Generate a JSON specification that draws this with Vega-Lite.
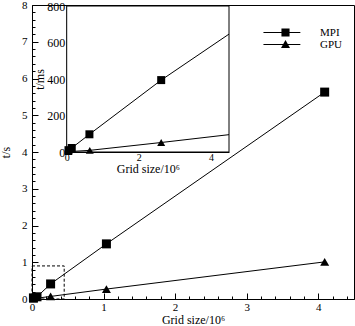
{
  "$schema": "https://vega.github.io/schema/vega-lite/v6.json",
  "width": 322,
  "height": 294,
  "autosize": {"type": "none"},
  "padding": {"left": 32, "top": 5, "right": 1, "bottom": 27},
  "config": {
    "font": "Liberation Serif",
    "view": {"stroke": "black", "strokeWidth": 1},
    "axis": {
      "domainColor": "black", "tickColor": "black", "labelColor": "black", "titleColor": "black",
      "labelFontSize": 11, "titleFontSize": 12, "titleFontWeight": "normal", "grid": false,
      "zindex": 1, "labelOverlap": false, "labelFlush": false, "tickWidth": 1, "domainWidth": 1, "tickCount": 100
    },
    "legend": {"labelColor": "black"}
  },
  "datasets": {
    "main": [
      {"series": "MPI", "x": 0.02, "y": 0.03},
      {"series": "MPI", "x": 0.07, "y": 0.06},
      {"series": "MPI", "x": 0.26, "y": 0.41},
      {"series": "MPI", "x": 1.04, "y": 1.5},
      {"series": "MPI", "x": 4.09, "y": 5.63},
      {"series": "GPU", "x": 0.02, "y": 0.01},
      {"series": "GPU", "x": 0.26, "y": 0.07},
      {"series": "GPU", "x": 1.04, "y": 0.27},
      {"series": "GPU", "x": 4.09, "y": 1.01}
    ],
    "inset": [
      {"series": "MPI", "x": 0.05, "y": 10, "marked": true},
      {"series": "MPI", "x": 0.14, "y": 22, "marked": true},
      {"series": "MPI", "x": 0.63, "y": 97, "marked": true},
      {"series": "MPI", "x": 2.62, "y": 394, "marked": true},
      {"series": "MPI", "x": 4.5, "y": 646, "marked": false},
      {"series": "GPU", "x": 0.05, "y": 2, "marked": true},
      {"series": "GPU", "x": 0.64, "y": 9, "marked": true},
      {"series": "GPU", "x": 2.62, "y": 52, "marked": true},
      {"series": "GPU", "x": 4.5, "y": 95, "marked": false}
    ],
    "zoombox": [{"x0": 0, "x1": 0.45, "y0": 0, "y1": 0.9}],
    "insetbox": [{"x0": 0, "x1": 4.5, "y0": 0, "y1": 800}]
  },
  "resolve": {"scale": {"x": "independent", "y": "independent"}, "axis": {"x": "independent", "y": "independent"}},
  "layer": [
    {
      "layer": [
        {
          "data": {"name": "zoombox"},
          "mark": {"type": "rect", "fill": null, "fillOpacity": 0, "stroke": "black", "strokeWidth": 1, "strokeDash": [3, 2]},
          "encoding": {
            "x": {
              "field": "x0", "type": "quantitative",
              "scale": {"domain": [0, 4.5], "nice": false, "zero": false},
              "axis": {"title": "Grid size/10⁶", "values": [0, 1, 2, 3, 4], "format": "d", "tickSize": -6, "labelPadding": 8, "titlePadding": 2}
            },
            "x2": {"field": "x1"},
            "y": {
              "field": "y0", "type": "quantitative",
              "scale": {"domain": [0, 8], "nice": false, "zero": false},
              "axis": {"title": "t/s", "values": [0, 1, 2, 3, 4, 5, 6, 7, 8], "format": "d", "tickSize": -6, "labelPadding": 11, "titlePadding": 9}
            },
            "y2": {"field": "y1"}
          }
        },
        {
          "data": {"name": "main"},
          "mark": {"type": "line", "color": "black", "strokeWidth": 1},
          "encoding": {
            "x": {"field": "x", "type": "quantitative"},
            "y": {"field": "y", "type": "quantitative"},
            "detail": {"field": "series"}
          }
        },
        {
          "data": {"name": "main"},
          "transform": [{"filter": "datum.series === 'MPI'"}],
          "mark": {"type": "point", "shape": "square", "filled": true, "color": "black", "opacity": 1, "size": 81},
          "encoding": {
            "x": {"field": "x", "type": "quantitative"},
            "y": {"field": "y", "type": "quantitative"}
          }
        },
        {
          "data": {"name": "main"},
          "transform": [{"filter": "datum.series === 'GPU'"}],
          "mark": {"type": "point", "shape": "triangle-up", "filled": true, "color": "black", "opacity": 1, "size": 81},
          "encoding": {
            "x": {"field": "x", "type": "quantitative"},
            "y": {"field": "y", "type": "quantitative"}
          }
        },
        {
          "data": {"name": "main"},
          "mark": {"type": "point", "filled": true, "fill": "black", "opacity": 0, "size": 81},
          "encoding": {
            "x": {"field": "x", "type": "quantitative"},
            "y": {"field": "y", "type": "quantitative"},
            "shape": {
              "field": "series", "type": "nominal",
              "scale": {"domain": ["MPI", "GPU"], "range": ["M-4.9,-0.12H3.3V0.12H-4.9ZM-0.9,-0.9H0.9V0.9H-0.9Z", "M-4.9,-0.12H3.3V0.12H-4.9ZM0,-1L1,0.8H-1Z"]},
              "legend": {
                "title": null, "orient": "none", "legendX": 248, "legendY": 22,
                "symbolSize": 81, "symbolOpacity": 1, "symbolFillColor": "black", "symbolStrokeWidth": 0,
                "labelOffset": 29, "labelFontSize": 11, "rowPadding": 0
              }
            }
          }
        }
      ]
    },
    {
      "data": {"name": "main"},
      "mark": {"type": "point", "opacity": 0},
      "encoding": {
        "x": {
          "field": "x", "type": "quantitative",
          "scale": {"domain": [0, 4.5], "nice": false, "zero": false},
          "axis": {"orient": "bottom", "title": null, "labels": false, "domain": false, "tickSize": -3,
            "values": [0.2,0.4,0.6,0.8,1.2,1.4,1.6,1.8,2.2,2.4,2.6,2.8,3.2,3.4,3.6,3.8,4.2,4.4]}
        },
        "y": {
          "field": "y", "type": "quantitative",
          "scale": {"domain": [0, 8], "nice": false, "zero": false},
          "axis": {"orient": "left", "title": null, "labels": false, "domain": false, "tickSize": -3,
            "values": [0.2,0.4,0.6,0.8,1.2,1.4,1.6,1.8,2.2,2.4,2.6,2.8,3.2,3.4,3.6,3.8,4.2,4.4,4.6,4.8,5.2,5.4,5.6,5.8,6.2,6.4,6.6,6.8,7.2,7.4,7.6,7.8]}
        }
      }
    },
    {
      "layer": [
        {
          "data": {"name": "insetbox"},
          "mark": {"type": "rect", "fill": "white", "stroke": "black", "strokeWidth": 1},
          "encoding": {
            "x": {
              "field": "x0", "type": "quantitative",
              "scale": {"domain": [0, 4.5], "nice": false, "zero": false, "range": [34.7, 197]},
              "axis": {"orient": "bottom", "offset": -147, "title": "Grid size/10⁶", "values": [0, 2, 4], "format": "d",
                "tickSize": -5, "labelPadding": 5, "titlePadding": 1, "labelFontSize": 10}
            },
            "x2": {"field": "x1"},
            "y": {
              "field": "y0", "type": "quantitative",
              "scale": {"domain": [0, 800], "nice": false, "zero": false, "range": [147, 1]},
              "axis": {"orient": "left", "offset": -34.7, "title": "t/ms", "values": [0, 200, 400, 600, 800], "format": "d",
                "tickSize": -5, "labelPadding": 7, "titlePadding": 0, "labelFontSize": 12}
            },
            "y2": {"field": "y1"}
          }
        },
        {
          "data": {"name": "inset"},
          "mark": {"type": "line", "color": "black", "strokeWidth": 1, "clip": true},
          "encoding": {
            "x": {"field": "x", "type": "quantitative"},
            "y": {"field": "y", "type": "quantitative"},
            "detail": {"field": "series"}
          }
        },
        {
          "data": {"name": "inset"},
          "transform": [{"filter": "datum.marked && datum.series === 'MPI'"}],
          "mark": {"type": "point", "shape": "square", "filled": true, "color": "black", "opacity": 1, "size": 64},
          "encoding": {
            "x": {"field": "x", "type": "quantitative"},
            "y": {"field": "y", "type": "quantitative"}
          }
        },
        {
          "data": {"name": "inset"},
          "transform": [{"filter": "datum.marked && datum.series === 'GPU'"}],
          "mark": {"type": "point", "shape": "triangle-up", "filled": true, "color": "black", "opacity": 1, "size": 64},
          "encoding": {
            "x": {"field": "x", "type": "quantitative"},
            "y": {"field": "y", "type": "quantitative"}
          }
        }
      ]
    },
    {
      "data": {"name": "inset"},
      "mark": {"type": "point", "opacity": 0},
      "encoding": {
        "x": {
          "field": "x", "type": "quantitative",
          "scale": {"domain": [0, 4.5], "nice": false, "zero": false, "range": [34.7, 197]},
          "axis": {"orient": "bottom", "offset": -147, "title": null, "labels": false, "domain": false, "tickSize": -3,
            "values": [0.5, 1, 1.5, 2.5, 3, 3.5]}
        },
        "y": {
          "field": "y", "type": "quantitative",
          "scale": {"domain": [0, 800], "nice": false, "zero": false, "range": [147, 1]},
          "axis": {"orient": "left", "offset": -34.7, "title": null, "labels": false, "domain": false, "tickSize": -3,
            "values": [50,100,150,250,300,350,450,500,550,650,700,750]}
        }
      }
    }
  ]
}
